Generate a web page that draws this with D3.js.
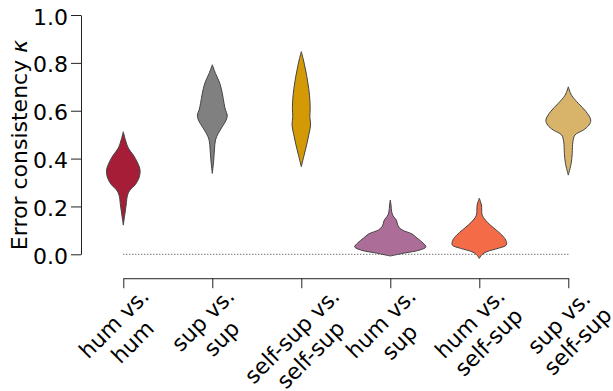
<!DOCTYPE html>
<html>
<head>
<meta charset="utf-8">
<script src="https://cdn.jsdelivr.net/npm/d3@7"></script>
<style>
  html, body { margin: 0; padding: 0; background: #fff; }
  svg { display: block; font-family: "DejaVu Sans", sans-serif; }
</style>
</head>
<body>
<svg id="chart" width="613" height="391"></svg>
<script>
// Comparison groups (two-line tick labels)
const categories = [
  ["hum vs.", "hum"],
  ["sup vs.", "sup"],
  ["self-sup vs.", "self-sup"],
  ["hum vs.", "sup"],
  ["hum vs.", "self-sup"],
  ["sup vs.", "self-sup"]
];
const colors = ["#a51d37", "#808080", "#d39a05", "#ad6d99", "#f46b48", "#d8b46b"];

// Kernel density profiles of error consistency per group: [kappa, density]
const densHumHum = [[0.512,0],[0.478,0.06],[0.444,0.14],[0.415,0.28],[0.386,0.39],[0.352,0.47],[0.319,0.44],[0.290,0.33],[0.269,0.19],[0.248,0.12],[0.206,0.08],[0.164,0.04],[0.122,0]];
const densSupSup = [[0.792,0],[0.756,0.09],[0.715,0.21],[0.673,0.28],[0.631,0.33],[0.603,0.37],[0.582,0.42],[0.561,0.39],[0.533,0.28],[0.506,0.17],[0.478,0.09],[0.436,0.06],[0.394,0.04],[0.338,0]];
const densSelfSelf = [[0.847,0],[0.812,0.06],[0.770,0.12],[0.721,0.18],[0.665,0.23],[0.610,0.25],[0.575,0.24],[0.540,0.26],[0.499,0.21],[0.457,0.15],[0.415,0.08],[0.366,0]];
const densHumSup = [[0.227,0],[0.206,0.02],[0.177,0.04],[0.160,0.08],[0.143,0.17],[0.118,0.22],[0.102,0.33],[0.085,0.61],[0.068,0.75],[0.047,0.92],[0.031,1.0],[0.018,0.83],[0.005,0.39],[-0.007,0]];
const densHumSelf = [[0.234,0],[0.206,0.06],[0.164,0.08],[0.143,0.17],[0.122,0.31],[0.102,0.47],[0.081,0.63],[0.060,0.74],[0.039,0.76],[0.025,0.53],[0.011,0.21],[-0.001,0.08],[-0.017,0]];
const densSupSelf = [[0.700,0],[0.665,0.09],[0.631,0.28],[0.596,0.50],[0.561,0.63],[0.540,0.58],[0.519,0.42],[0.499,0.19],[0.471,0.13],[0.422,0.11],[0.380,0.08],[0.331,0]];
const densities = [densHumHum, densSupSup, densSelfSelf, densHumSup, densHumSelf, densSupSelf];

const yTicks = [0, 0.2, 0.4, 0.6, 0.8, 1.0];
const yLabel = "Error consistency ";
const yLabelSymbol = "κ";

const svg = d3.select("#chart");
const fs = 22;

const x = d3.scalePoint().domain(d3.range(categories.length)).range([123.3, 568.3]);
const y = d3.scaleLinear().domain([0, 1]).range([254.3, 15]);
const w = d3.scaleLinear().domain([0, 1]).range([0, 35.6]);
const xAxisValue = -0.1;

// Y axis
const gy = svg.append("g").attr("transform", "translate(81,0)")
  .call(d3.axisLeft(y).tickValues(yTicks).tickFormat(d3.format(".1f"))
    .tickSize(10).tickSizeOuter(0).tickPadding(3));
gy.selectAll("text").attr("font-size", fs).attr("fill", "#000")
  .attr("font-family", "DejaVu Sans").attr("dy", "0.41em");

// X axis
const gx = svg.append("g").attr("transform", `translate(0,${y(xAxisValue)})`)
  .call(d3.axisBottom(x).tickSize(10).tickSizeOuter(0).tickFormat(""));
[gy, gx].forEach(g => {
  g.select(".domain").attr("stroke", "#222").attr("stroke-width", 1);
  g.selectAll(".tick line").attr("stroke", "#222").attr("stroke-width", 1);
});

// Rotated two-line tick labels, centred under each tick
const lineH = 1.2 * fs, asc = 0.928 * fs, desc = 0.236 * fs;
const blockH = lineH + asc + desc;
categories.forEach((lines, i) => {
  const g = svg.append("g");
  const t = g.append("text").attr("font-size", fs).attr("fill", "#000")
    .attr("text-anchor", "middle");
  lines.forEach((s, k) => {
    t.append("tspan").attr("x", 0).attr("y", -blockH / 2 + asc + k * lineH).text(s);
  });
  const W = d3.max(t.selectAll("tspan").nodes(), n => n.getComputedTextLength());
  const S = (W + blockH) * Math.SQRT1_2;
  const top = y(xAxisValue) + 5;
  g.attr("transform", `translate(${x(i)},${top + S / 2}) rotate(-45)`);
});

// Y label
const yl = svg.append("text")
  .attr("transform", `translate(27,145) rotate(-90)`)
  .attr("text-anchor", "middle").attr("font-size", fs).attr("fill", "#000");
yl.append("tspan").text(yLabel);
yl.append("tspan").attr("font-style", "italic").text(yLabelSymbol);

// Reference line at zero agreement beyond chance
svg.append("line")
  .attr("x1", x(0)).attr("x2", x(categories.length - 1))
  .attr("y1", y(0)).attr("y2", y(0))
  .attr("stroke", "#333").attr("stroke-width", 1).attr("stroke-dasharray", "1,2");

// Violins
densities.forEach((dens, i) => {
  const cx = x(i);
  const area = d3.area()
    .y(d => y(d[0]))
    .x0(d => cx - w(d[1]))
    .x1(d => cx + w(d[1]))
    .curve(d3.curveCatmullRom.alpha(0.5));
  svg.append("path")
    .attr("d", area(dens))
    .attr("fill", colors[i])
    .attr("stroke", "#444")
    .attr("stroke-width", 1);
});
</script>
</body>
</html>
